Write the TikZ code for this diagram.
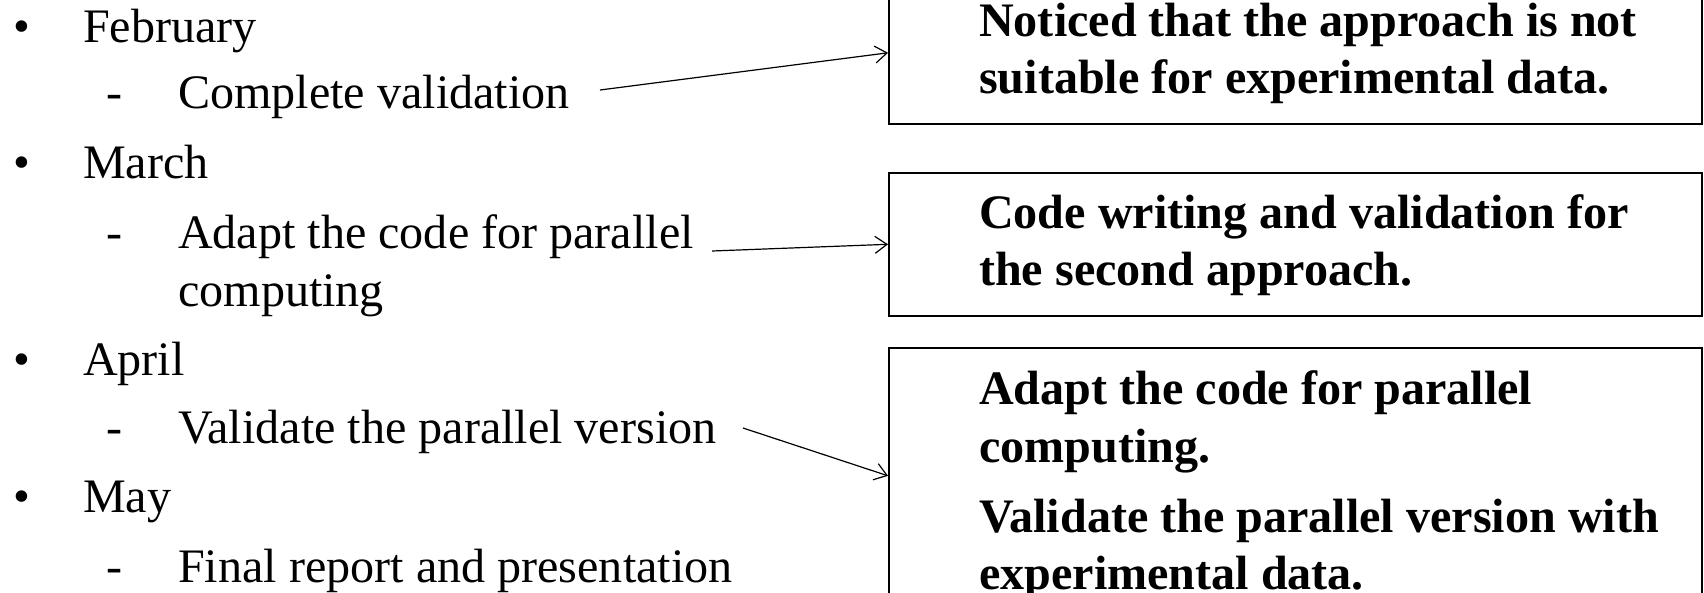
\documentclass[tikz,border=0pt]{standalone}
\usepackage{fontspec}
\setmainfont{Liberation Serif}
\usetikzlibrary{arrows.meta}
\begin{document}
\begin{tikzpicture}[x=1pt,y=-1pt,
  txt/.style={anchor=base west,inner sep=0pt,font=\fontsize{48.1}{57}\selectfont},
  btxt/.style={txt,font=\fontsize{48.1}{57}\selectfont\bfseries},
  box/.style={draw,line width=1.6pt,minimum width=813pt,inner sep=0pt,anchor=north west},
  arr/.style={line width=1.2pt,-{Straight Barb[length=12pt,width=17pt,line width=1.2pt]}}]
\useasboundingbox (0,0) rectangle (1704,592);
\clip (0,0) rectangle (1704,592);
% left list
\node[txt] (b1) at (13,42) {•};
\node[txt] (feb) at (83,42) {February};
\node[txt] (d1) at (106,108) {-};
\node[txt] (t1) at (178,108) {Complete validation};
\node[txt] (b2) at (13,178) {•};
\node[txt] (mar) at (83,178) {March};
\node[txt] (d2) at (106,248) {-};
\node[txt] (t2) at (178,248) {Adapt the code for parallel};
\node[txt] (t2b) at (178,306) {computing};
\node[txt] (b3) at (13,375) {•};
\node[txt] (apr) at (83,375) {April};
\node[txt] (d3) at (106,443) {-};
\node[txt] (t3) at (178,443) {Validate the parallel version};
\node[txt] (b4) at (13,512) {•};
\node[txt] (may) at (83,512) {May};
\node[txt] (d4) at (106,582) {-};
\node[txt] (t4) at (178,582) {Final report and presentation};
% boxes
\node[box,minimum height=142pt] (x1) at (888,-19) {};
\node[box,minimum height=143pt] (x2) at (888,172) {};
\node[box,minimum height=256pt] (x3) at (888,347) {};
\node[btxt] (r1a) at (979,36) {Noticed that the approach is not};
\node[btxt] (r1b) at (979,93) {suitable for experimental data.};
\node[btxt] (r2a) at (979,228) {Code writing and validation for};
\node[btxt] (r2b) at (979,285) {the second approach.};
\node[btxt] (r3a) at (979,404) {Adapt the code for parallel};
\node[btxt] (r3b) at (979,462) {computing.};
\node[btxt] (r3c) at (979,532) {Validate the parallel version with};
\node[btxt] (r3d) at (979,589) {experimental data.};
% connectors
\coordinate (s1) at (600,90);
\coordinate (s2) at (712,251);
\coordinate (s3) at (743,428);
\draw[arr] (s1) -- (x1.west);
\draw[arr] (s2) -- (x2.west);
\draw[arr] (s3) -- (x3.west);
\end{tikzpicture}
\end{document}
